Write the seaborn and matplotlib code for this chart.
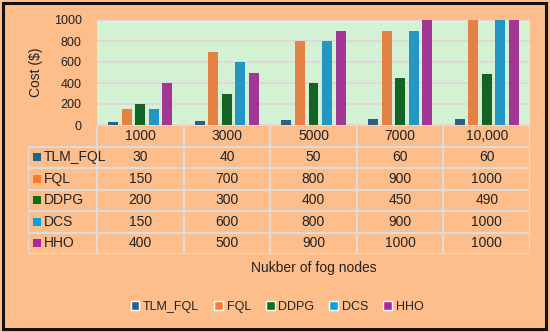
import pandas as pd
import numpy as np
import seaborn as sns
import matplotlib.pyplot as plt
from matplotlib.patches import Rectangle

# data
nodes = ['1000', '3000', '5000', '7000', '10,000']
methods = ['TLM_FQL', 'FQL', 'DDPG', 'DCS', 'HHO']
tlm_fql = [30, 40, 50, 60, 60]
fql = [150, 700, 800, 900, 1000]
ddpg = [200, 300, 400, 450, 490]
dcs = [150, 600, 800, 900, 1000]
hho = [400, 500, 900, 1000, 1000]
colors = ['#1F6391', '#FF7A2A', '#06701E', '#07A3DF', '#B3259F']

peach = '#FDBE8C'
green = '#D3F2D3'
line_col = '#DCDCDC'

series = [tlm_fql, fql, ddpg, dcs, hho]
df = pd.DataFrame({
    'nodes': np.repeat([nodes], len(methods), axis=0).ravel(),
    'method': np.repeat(methods, len(nodes)),
    'cost': np.concatenate(series),
})

sns.set_style('white')
plt.rcParams['font.family'] = ['Liberation Sans', 'DejaVu Sans']

W, H = 550, 332
fig = plt.figure(figsize=(W / 100, H / 100), dpi=100)
fig.patch.set_facecolor(peach)

def fx(px):
    return px / W

def fy(py):
    return 1 - py / H

# bar chart
left, right, top, bottom = 97, 530, 20, 125
ax = fig.add_axes([fx(left), fy(bottom), fx(right - left), (bottom - top) / H])
ax.set_facecolor(green)
sns.barplot(data=df, x='nodes', y='cost', hue='method', order=nodes,
            hue_order=methods, palette=dict(zip(methods, colors)),
            width=0.78, gap=0.26, linewidth=0, legend=False, ax=ax)
ax.set_xlim(-0.5, 4.5)
ax.set_ylim(0, 1000)
ax.set_yticks(range(0, 1001, 200))
ax.yaxis.grid(True, color='#E3D3DA', linewidth=1.2)
ax.set_axisbelow(True)
ax.set_xticks([])
ax.set_xlabel('')
ax.set_ylabel('Cost ($)', fontsize=10, color='#222222', labelpad=8)
ax.tick_params(axis='y', length=0, pad=11, labelsize=9, labelcolor='#222222')
for s in ax.spines.values():
    s.set_visible(False)

# data table below the plot
t_left, t_bottom = 28, 254
unit = (right - left) / 5
lab_w = (left - t_left) / unit
row_h = (t_bottom - bottom) / 6
tax = fig.add_axes([fx(t_left), fy(t_bottom), fx(right - t_left), (t_bottom - bottom) / H])
tax.set_xlim(-0.5 - lab_w, 4.5)
tax.set_ylim(6, 0)
tax.axis('off')
lw = 1.5
tax.hlines(0, -0.5, 4.5, color=line_col, lw=lw)
for r in range(1, 7):
    tax.hlines(r, -0.5 - lab_w, 4.5, color=line_col, lw=lw)
for c in np.arange(-0.5, 5.0, 1.0):
    tax.vlines(c, 0, 6, color=line_col, lw=lw)
tax.vlines(-0.5 - lab_w, 1, 6, color=line_col, lw=lw)

for i, n in enumerate(nodes):
    tax.text(i, 0.5, n, ha='center', va='center', fontsize=10, color='#222222')
sq_w, sq_h = 8 / unit, 8 / row_h
for r, (m, vals, col) in enumerate(zip(methods, series, colors), start=1):
    tax.add_patch(Rectangle((-0.5 - lab_w + 5 / unit, r + 0.5 - sq_h / 2), sq_w, sq_h,
                            facecolor=col, edgecolor='none'))
    tax.text(-0.5 - lab_w + 16 / unit, r + 0.5, m, ha='left', va='center',
             fontsize=10, color='#222222')
    for i, v in enumerate(vals):
        tax.text(i, r + 0.5, str(v), ha='center', va='center',
                 fontsize=10, color='#222222')

fig.text(fx((left + right) / 2), fy(268), 'Nukber of fog nodes', ha='center',
         va='center', fontsize=10, color='#222222')

handles = [Rectangle((0, 0), 1, 1, facecolor=c) for c in colors]
fig.legend(handles, methods, loc='center', bbox_to_anchor=(fx(277), fy(307)),
           ncol=5, frameon=False, fontsize=9, handlelength=0.7, handleheight=0.7,
           handletextpad=0.3, columnspacing=1.2, labelcolor='#222222')

# outer frame
fig.patches.append(Rectangle((fx(3), fy(329)), fx(543), (329 - 3) / H,
                             transform=fig.transFigure, fill=False,
                             edgecolor='#111111', linewidth=2.2))

fig.savefig('out.png', dpi=100, facecolor=fig.get_facecolor())
